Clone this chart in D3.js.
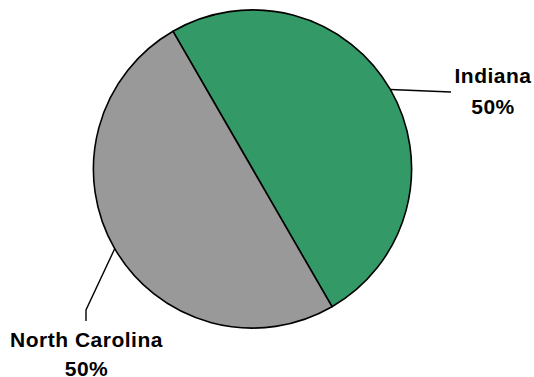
<!DOCTYPE html>
<html>
<head>
<meta charset="utf-8">
<script src="https://cdn.jsdelivr.net/npm/d3@7"></script>
<style>
  html, body { margin: 0; padding: 0; background: #fff; }
  svg { display: block; }
  .lbl { font-family: "Liberation Sans", Arial, sans-serif; font-weight: bold; font-size: 21px; letter-spacing: 0.5px; fill: #000; }
</style>
</head>
<body>
<svg id="chart" width="534" height="377"></svg>
<script>
// Share of sites by state
const categories = ["Indiana", "North Carolina"];
const values = [50, 50];
const colors = ["#339966", "#999999"];

const W = 534, H = 377;
const cx = 252.5, cy = 169, R = 159;

const svg = d3.select("#chart");
const g = svg.append("g").attr("transform", `translate(${cx},${cy})`);

const pie = d3.pie().sort(null)
  .startAngle(-Math.PI / 6)
  .endAngle(2 * Math.PI - Math.PI / 6);
const arcs = pie(values);
const arc = d3.arc().innerRadius(0).outerRadius(R);

g.selectAll("path.slice")
  .data(arcs)
  .join("path")
  .attr("class", "slice")
  .attr("d", arc)
  .attr("fill", (d, i) => colors[i])
  .attr("stroke", "#000")
  .attr("stroke-width", 1.6)
  .attr("stroke-linejoin", "round");

const total = d3.sum(values);
const pct = v => Math.round(v / total * 100) + "%";

// Label placement: leader runs from the slice edge to the label
const labelSpec = [
  { x: 493, y: 82.5, gap: 31, leader: [[451, 92]] },
  { x: 86.5, y: 347, gap: 28.5, leader: [[86, 310], [86, 321]] }
];

arcs.forEach((d, i) => {
  const mid = (d.startAngle + d.endAngle) / 2;
  const ex = cx + Math.sin(mid) * R;
  const ey = cy - Math.cos(mid) * R;
  const spec = labelSpec[i];
  const pts = [[ex, ey]].concat(spec.leader);
  svg.append("path")
    .attr("d", d3.line()(pts))
    .attr("fill", "none")
    .attr("stroke", "#000")
    .attr("stroke-width", 1.4);

  const t = svg.append("text")
    .attr("class", "lbl")
    .attr("text-anchor", "middle")
    .attr("x", spec.x)
    .attr("y", spec.y);
  t.append("tspan").attr("x", spec.x).text(categories[i]);
  t.append("tspan").attr("x", spec.x).attr("dy", spec.gap).text(pct(d.value));
});
</script>
</body>
</html>
